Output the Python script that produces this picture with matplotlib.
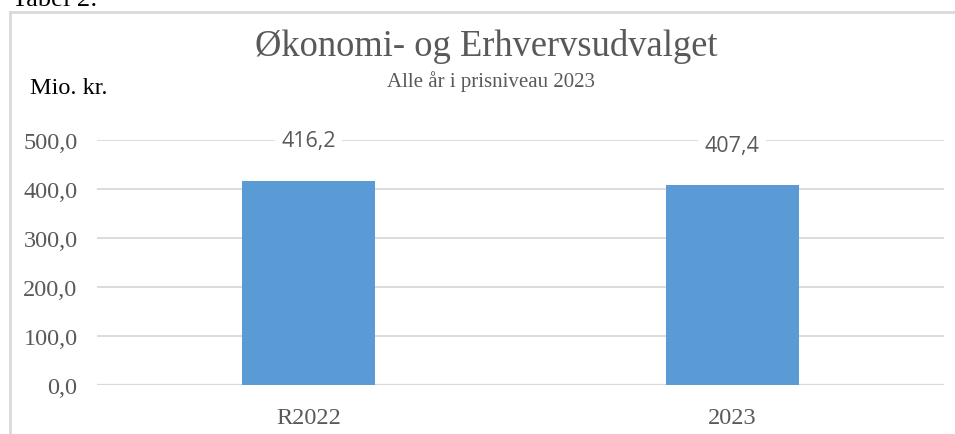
import matplotlib
matplotlib.use("Agg")
import matplotlib.pyplot as plt
from matplotlib.lines import Line2D

categories = ["R2022", "2023"]
values = [416.2, 407.4]
value_labels = ["416,2", "407,4"]
yticks = [0, 100, 200, 300, 400, 500]
ytick_labels = ["0,0", "100,0", "200,0", "300,0", "400,0", "500,0"]

W, H = 955, 435
fig = plt.figure(figsize=(W / 100, H / 100), dpi=100)

ax = fig.add_axes([97 / W, 1 - 386 / H, (944 - 97) / W, (386 - 141) / H])
x = list(range(len(categories)))
ax.bar(x, values, width=0.314, color="#5B9BD5", zorder=3)
ax.set_xlim(-0.5, len(categories) - 0.5)
ax.set_ylim(0, 500)
ax.set_yticks(yticks)
ax.set_yticklabels(ytick_labels)
ax.set_xticks(x)
ax.set_xticklabels(categories)
for s in ax.spines.values():
    s.set_visible(False)
ax.yaxis.grid(True, color="#d9d9d9", linewidth=1.3, zorder=0)
ax.set_axisbelow(True)
ax.tick_params(axis="both", length=0, colors="#595959", labelsize=17.5)
ax.tick_params(axis="y", pad=14)
ax.tick_params(axis="x", pad=16)
for lab in ax.get_xticklabels() + ax.get_yticklabels():
    lab.set_family("Liberation Serif")
ax.axhline(0, color="#d9d9d9", linewidth=1.6, zorder=2)

for xi, v, lbl in zip(x, values, value_labels):
    ax.annotate(lbl, (xi, v), xytext=(0, 29), textcoords="offset points",
                ha="center", va="center", fontsize=15.5, family="Open Sans",
                color="#595959",
                bbox=dict(boxstyle="square,pad=0.3", fc="white", ec="none"),
                zorder=4)

fig.text(486 / W, 1 - 47 / H, "Økonomi- og Erhvervsudvalget", ha="center",
         va="center", fontsize=26.3, family="Liberation Serif", color="#595959")
fig.text(491 / W, 1 - 82 / H, "Alle år i prisniveau 2023", ha="center",
         va="center", fontsize=15, family="Liberation Serif", color="#595959")
fig.text(30 / W, 1 - 88 / H, "Mio. kr.", ha="left", va="center",
         fontsize=17.5, family="Liberation Serif", color="black")
fig.text(12 / W, 1 - 6 / H, "Tabel 2:", ha="left", va="baseline",
         fontsize=19, family="Liberation Serif", color="black")

# chart border (top and left visible)
fig.add_artist(Line2D([10 / W, 1.0], [1 - 13 / H, 1 - 13 / H],
                      transform=fig.transFigure, color="#d9d9d9", linewidth=2))
fig.add_artist(Line2D([10 / W, 10 / W], [0, 1 - 13 / H],
                      transform=fig.transFigure, color="#d9d9d9", linewidth=2))

fig.savefig("out.png", dpi=100)
